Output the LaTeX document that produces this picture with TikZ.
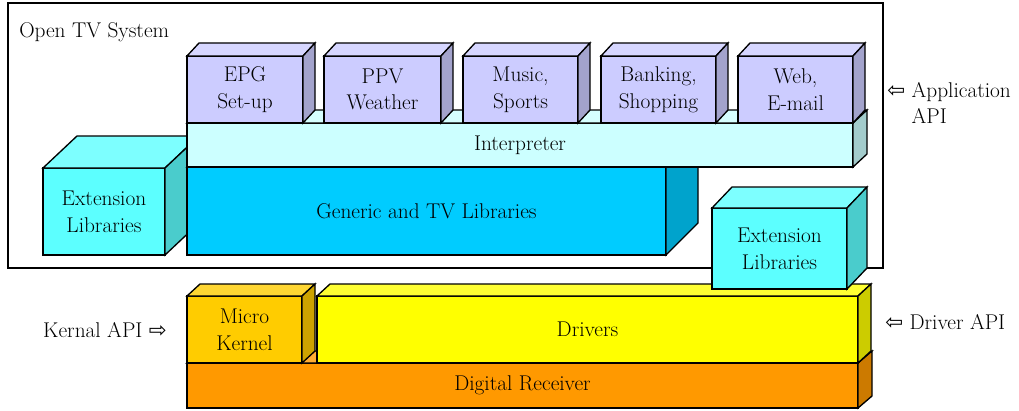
\documentclass[tikz,border=0pt]{standalone}
\usepackage{fontspec}
\newfontfamily\fleche{DejaVu Sans}

\definecolor{appli}{HTML}{CCCCFF}
\definecolor{interp}{HTML}{CCFFFF}
\definecolor{generique}{HTML}{00CCFF}
\definecolor{extension}{HTML}{5CFFFF}
\definecolor{noyau}{HTML}{FFCC00}
\definecolor{pilote}{HTML}{FFFF00}
\definecolor{recepteur}{HTML}{FF9900}

\tikzset{
  bord/.style={draw=black, line width=1pt, line join=miter},
  face/.style={bord, fill=#1, inner sep=0pt, outer sep=0pt, align=center},
  dim/.style 2 args={minimum width=#1*0.75pt, minimum height=#2*0.75pt},
  legende/.style={inner sep=0pt, align=left},
}

% faces du dessus et de côté d'un bloc
\newcommand{\relief}[4]{%
  \draw[bord, fill=#4!80!white] (#1.north west) -- ++(#2,#3) -- ([shift={(#2,#3)}]#1.north east) -- (#1.north east) -- cycle;
  \draw[bord, fill=#4!80!black] (#1.north east) -- ++(#2,#3) -- ([shift={(#2,#3)}]#1.south east) -- (#1.south east) -- cycle;
}
\newcommand{\gauche}{{\fleche\fontsize{16}{16}\selectfont ⇦}}
\newcommand{\droite}{{\fleche\fontsize{16}{16}\selectfont ⇨}}

\begin{document}
\begin{tikzpicture}[x=0.75pt, y=-0.75pt, font=\fontsize{16}{20}\selectfont]
  \useasboundingbox (0,0) rectangle (1019,410);

  % cadre du système
  \draw[line width=0.9pt] (8,3) rectangle (883,268);
  \node[anchor=base west, inner sep=0pt] (titre) at (19,38) {Open TV System};

  % bibliothèques et interpréteur
  \node[face=extension, dim={122}{87}] (extg) at (104,211.5) {Extension\\Libraries};
  \relief{extg}{34}{-32}{extension}
  \node[face=generique, dim={479}{88}] (gen) at (426.5,211) {Generic and TV Libraries};
  \relief{gen}{32}{-32}{generique}
  \node[face=interp, dim={666}{44}] (interp) at (520,145) {Interpreter};
  \relief{interp}{14}{-13}{interp}

  % applications
  \node[face=appli, dim={116}{67}] (epg) at (245,89.5) {EPG\\Set-up};
  \relief{epg}{12}{-13}{appli}
  \node[face=appli, dim={117}{67}] (ppv) at (382.5,89.5) {PPV\\Weather};
  \relief{ppv}{12}{-13}{appli}
  \node[face=appli, dim={115}{67}] (musique) at (520.5,89.5) {Music,\\Sports};
  \relief{musique}{12}{-13}{appli}
  \node[face=appli, dim={115}{67}] (banque) at (658.5,89.5) {Banking,\\Shopping};
  \relief{banque}{12}{-13}{appli}
  \node[face=appli, dim={115}{67}] (web) at (795.5,89.5) {Web,\\E-mail};
  \relief{web}{12}{-13}{appli}

  % couche basse
  \node[face=recepteur, dim={671}{45}] (recep) at (522.5,385.5) {Digital Receiver};
  \relief{recep}{14}{-12}{recepteur}
  \node[face=noyau, dim={115}{67}] (noyau) at (244.5,329.5) {Micro\\Kernel};
  \relief{noyau}{13}{-12}{noyau}
  \node[face=pilote, dim={541}{67}] (pilotes) at (587.5,329.5) {Drivers};
  \relief{pilotes}{13}{-12}{pilote}
  \node[face=extension, dim={135}{81}] (extd) at (779.5,248.5) {Extension\\Libraries};
  \relief{extd}{20}{-21}{extension}

  % interfaces
  \node[legende, anchor=west] (apiappli) at (887,103) {\gauche{} Application\\\hphantom{\gauche{} }API};
  \node[legende, anchor=west] (apipilote) at (885,322) {\gauche{} Driver API};
  \node[legende, anchor=east] (apinoyau) at (167,330) {Kernal API \droite};
\end{tikzpicture}
\end{document}
